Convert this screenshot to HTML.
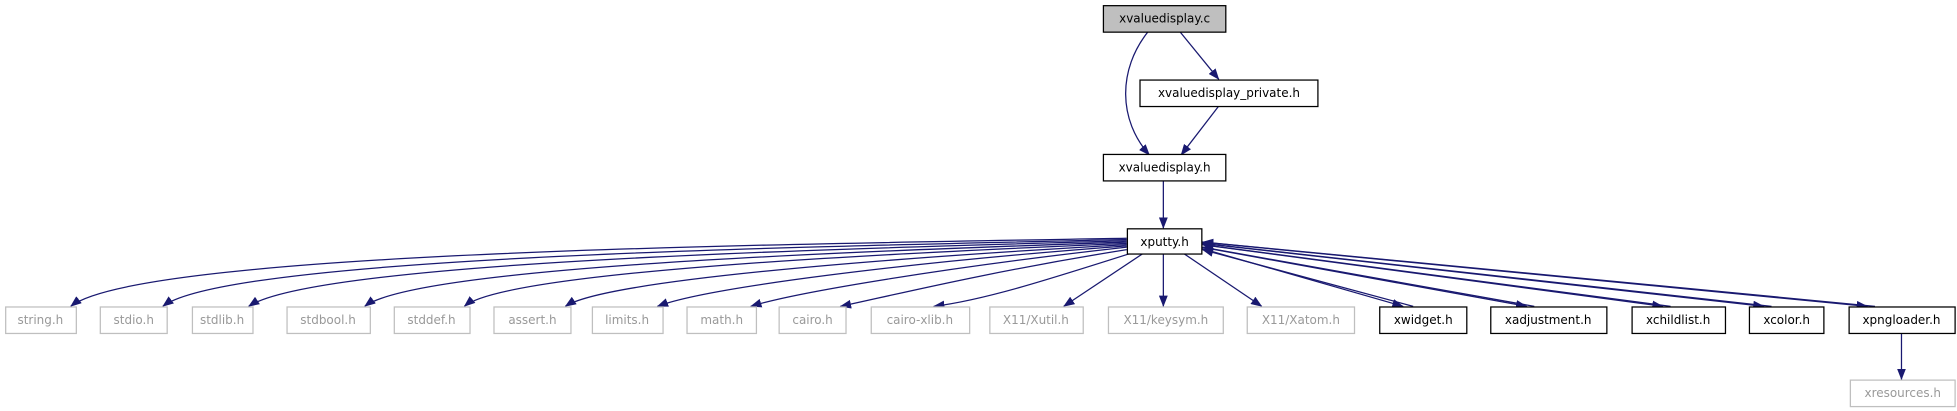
<!DOCTYPE html>
<html><head><meta charset="utf-8"><style>
html,body{margin:0;padding:0;background:#fff;width:1957px;height:411px;overflow:hidden}
svg text{font-family:"DejaVu Sans","Liberation Sans",sans-serif;font-size:9.5px;text-anchor:middle}
</style></head><body>
<svg width="1957" height="411" viewBox="0 0 1551 326" preserveAspectRatio="none" xmlns="http://www.w3.org/2000/svg">
<defs><marker id="a" markerWidth="9" markerHeight="7" refX="8.5" refY="3.5" orient="auto" markerUnits="userSpaceOnUse"><path d="M0,0 L9,3.5 L0,7 z" fill="#191970"/></marker></defs>
<g fill="none" stroke="#191970" stroke-width="1" marker-end="url(#a)">
<path d="M910,25 C886,55 886,95 911,123"/>
<path d="M935,25 L966,63"/>
<path d="M966,84 L936,123"/>
<path d="M922,143 L922,181"/>
<!-- left fan -->
<path d="M893,189 C600,194 110,200 56,243"/>
<path d="M893,190 C620,196 180,204 129,243"/>
<path d="M893,191 C640,198 250,208 197,243"/>
<path d="M893,192 C660,200 330,212 289,243"/>
<path d="M893,193 C680,202 400,216 368,243"/>
<path d="M893,194 C700,205 480,222 448,243"/>
<path d="M893,195 C720,208 560,228 521,243"/>
<path d="M893,196 C750,212 630,232 595,243"/>
<path d="M893,198 C780,216 700,236 666,243"/>
<path d="M896,201 C830,222 780,238 740,243"/>
<path d="M906,201 L843,243"/>
<path d="M922,201 L922,243"/>
<path d="M938,201 L1000,243"/>
<!-- right bidirectional -->
<path d="M952,197 L1112,243"/><path d="M1120,243 L953,198"/>
<path d="M952,196 L1210,243"/><path d="M1216,243 L953,196"/>
<path d="M952,194 L1318,243"/><path d="M1324,243 L953,194"/>
<path d="M952,193 L1398,243"/><path d="M1404,243 L953,193"/>
<path d="M952,192 L1480,243"/><path d="M1486,243 L953,192"/>
<path d="M1507,264 L1507,301"/>
</g>
<g stroke-width="1">
<rect x="874.5" y="4.5" width="97" height="21" fill="#bfbfbf" stroke="#000"/>
<rect x="903.5" y="63.5" width="141" height="21" fill="#fff" stroke="#000"/>
<rect x="874.5" y="122.5" width="97" height="21" fill="#fff" stroke="#000"/>
<rect x="893.5" y="181.5" width="59" height="20" fill="#fff" stroke="#000"/>
<g fill="#fff" stroke="#bfbfbf">
<rect x="4.5" y="243.5" width="56" height="21"/>
<rect x="79.5" y="243.5" width="53" height="21"/>
<rect x="152.5" y="243.5" width="48" height="21"/>
<rect x="227.5" y="243.5" width="66" height="21"/>
<rect x="312.5" y="243.5" width="60" height="21"/>
<rect x="391.5" y="243.5" width="61" height="21"/>
<rect x="469.5" y="243.5" width="56" height="21"/>
<rect x="544.5" y="243.5" width="55" height="21"/>
<rect x="617.5" y="243.5" width="53" height="21"/>
<rect x="690.5" y="243.5" width="78" height="21"/>
<rect x="784.5" y="243.5" width="74" height="21"/>
<rect x="878.5" y="243.5" width="91" height="21"/>
<rect x="988.5" y="243.5" width="85" height="21"/>
<rect x="1466.5" y="301.5" width="83" height="21"/>
</g>
<g fill="#fff" stroke="#000">
<rect x="1093.5" y="243.5" width="69" height="21"/>
<rect x="1181.5" y="243.5" width="92" height="21"/>
<rect x="1293.5" y="243.5" width="74" height="21"/>
<rect x="1386.5" y="243.5" width="59" height="21"/>
<rect x="1465.5" y="243.5" width="84" height="21"/>
</g>
</g>
<g fill="#000">
<text x="923" y="18">xvaluedisplay.c</text>
<text x="974" y="77">xvaluedisplay_private.h</text>
<text x="923" y="136">xvaluedisplay.h</text>
<text x="923" y="195">xputty.h</text>
<text x="1128" y="257">xwidget.h</text>
<text x="1227" y="257">xadjustment.h</text>
<text x="1330" y="257">xchildlist.h</text>
<text x="1416" y="257">xcolor.h</text>
<text x="1507" y="257">xpngloader.h</text>
</g>
<g fill="#999">
<text x="32" y="257">string.h</text>
<text x="106" y="257">stdio.h</text>
<text x="176" y="257">stdlib.h</text>
<text x="260" y="257">stdbool.h</text>
<text x="342" y="257">stddef.h</text>
<text x="422" y="257">assert.h</text>
<text x="497" y="257">limits.h</text>
<text x="572" y="257">math.h</text>
<text x="644" y="257">cairo.h</text>
<text x="729" y="257">cairo-xlib.h</text>
<text x="821" y="257">X11/Xutil.h</text>
<text x="924" y="257">X11/keysym.h</text>
<text x="1031" y="257">X11/Xatom.h</text>
<text x="1508" y="315">xresources.h</text>
</g>
</svg>
</body></html>
